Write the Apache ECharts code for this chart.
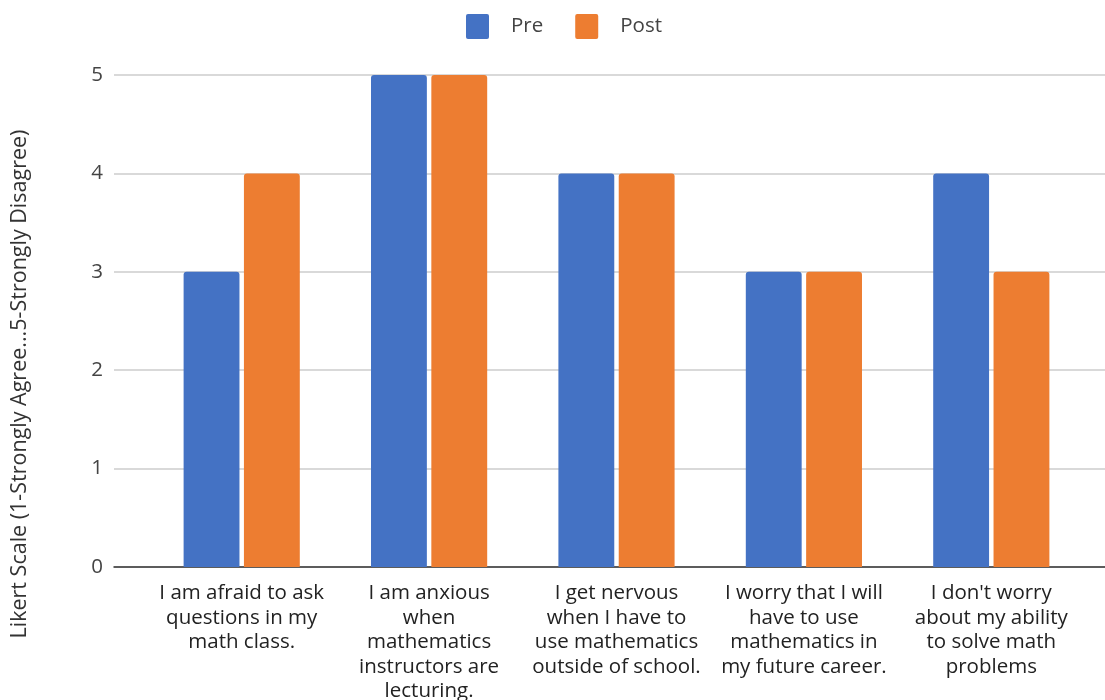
<!DOCTYPE html>
<html>
<head>
<meta charset="utf-8">
<script src="https://cdn.jsdelivr.net/npm/echarts@6/dist/echarts.min.js"></script>
<style>
html,body{margin:0;padding:0;background:#fff;}
#chart{width:1105px;height:700px;}
</style>
</head>
<body>
<div id="chart"></div>
<script>
const categories = [
  "I am afraid to ask\nquestions in my\nmath class.",
  "I am anxious\nwhen\nmathematics\ninstructors are\nlecturing.",
  "I get nervous\nwhen I have to\nuse mathematics\noutside of school.",
  "I worry that I will\nhave to use\nmathematics in\nmy future career.",
  "I don't worry\nabout my ability\nto solve math\nproblems"
];
const preValues = [3, 5, 4, 3, 4];
const postValues = [4, 5, 4, 3, 3];
const yTicks = [0, 1, 2, 3, 4, 5];
const yAxisTitle = "Likert Scale (1-Strongly Agree...5-Strongly Disagree)";

const FONT = "Open Sans";
const chart = echarts.init(document.getElementById('chart'), null, {renderer: 'canvas'});
chart.setOption({
  backgroundColor: '#fff',
  animation: false,
  textStyle: {fontFamily: FONT},
  legend: {
    top: 9, left: 461,
    itemWidth: 23, itemHeight: 25, itemGap: 32,
    icon: 'path://M2,0 H21 Q23,0 23,2 V23 Q23,25 21,25 H2 Q0,25 0,23 V2 Q0,0 2,0 Z',
    textStyle: {fontSize: 20.5, color: '#444', fontFamily: FONT, padding: [0, 0, 0, 17]},
    data: ['Pre', 'Post']
  },
  grid: [
    {left: 114, right: 0, top: 75, bottom: 133, containLabel: false, outerBoundsMode: 'none'},
    {left: 148, right: 20, top: 75, bottom: 133, containLabel: false, outerBoundsMode: 'none'}
  ],
  xAxis: [
    {gridIndex: 0, type: 'value', min: 0, max: 1, show: true,
     axisLine: {show: true, lineStyle: {color: '#333', width: 1.5}},
     axisTick: {show: false}, axisLabel: {show: false}, splitLine: {show: false}},
    {gridIndex: 1, type: 'category', data: categories,
     axisLine: {show: false}, axisTick: {show: false},
     axisLabel: {interval: 0, fontSize: 20.5, lineHeight: 24.5, color: '#222', margin: 14, fontFamily: FONT}}
  ],
  yAxis: [
    {gridIndex: 0, type: 'value', min: yTicks[0], max: yTicks[yTicks.length-1], interval: 1,
     axisLine: {show: false}, axisTick: {show: false},
     axisLabel: {fontSize: 20.5, color: '#444', margin: 11, fontFamily: FONT},
     splitLine: {lineStyle: {color: '#cccccc', width: 1.5}}},
    {gridIndex: 1, type: 'value', min: yTicks[0], max: yTicks[yTicks.length-1], interval: 1, show: false,
     splitLine: {show: false}}
  ],
  graphic: [{
    type: 'text',
    rotation: Math.PI / 2,
    x: 20, y: 384,
    style: {text: yAxisTitle, fontSize: 21.5, fill: '#333', fontFamily: FONT, align: 'center', verticalAlign: 'middle'}
  }],
  series: [
    {name: 'Pre', type: 'bar', xAxisIndex: 1, yAxisIndex: 1, data: preValues,
     barGap: '8%', barCategoryGap: '38%',
     itemStyle: {color: '#4472C4', borderRadius: [3, 3, 0, 0]}},
    {name: 'Post', type: 'bar', xAxisIndex: 1, yAxisIndex: 1, data: postValues,
     barGap: '8%', barCategoryGap: '38%',
     itemStyle: {color: '#ED7D31', borderRadius: [3, 3, 0, 0]}}
  ]
});
</script>
</body>
</html>
